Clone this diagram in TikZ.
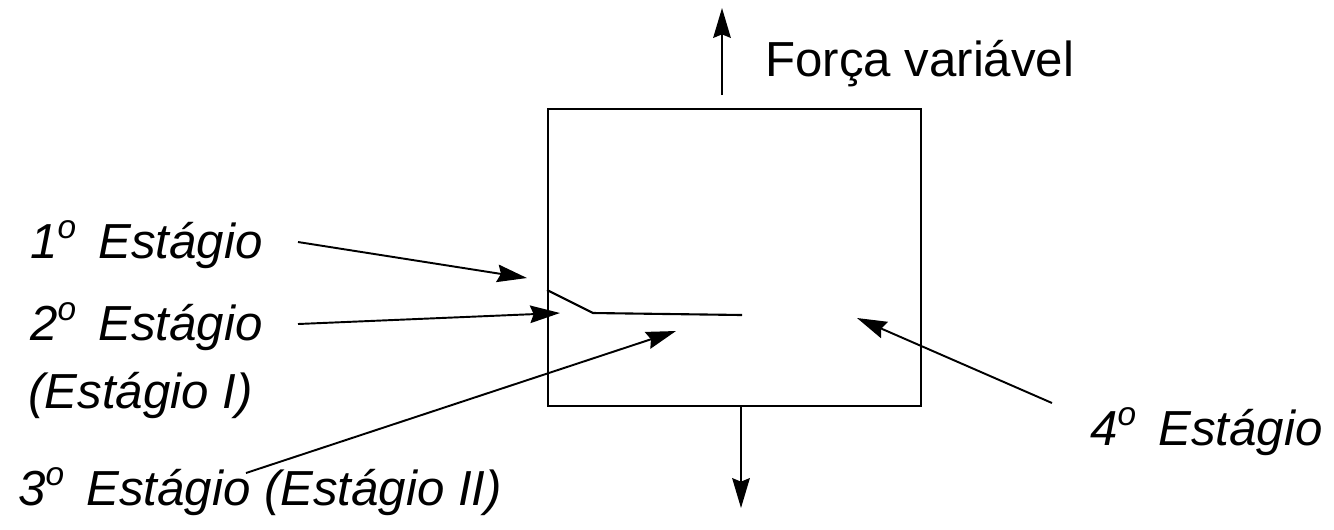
\documentclass[tikz,border=0pt]{standalone}
\usepackage{fontspec}
\setmainfont{Liberation Sans}
\usetikzlibrary{arrows.meta}
\newcommand{\ordo}{\raisebox{0.75ex}{\fontsize{19}{22}\selectfont o}\hspace{0.45em}}
\tikzset{
  lbl/.style={anchor=base west, inner sep=0pt, font=\fontsize{28}{33}\selectfont\itshape},
  ptr/.style={line width=1.1pt, -{Stealth[length=17pt,width=10pt,inset=2pt]}},
  body/.style={line width=1.2pt},
}
\begin{document}
\begin{tikzpicture}[x=0.02cm,y=-0.02cm]
\useasboundingbox (0,0) rectangle (1334,529);
% specimen
\node[body, draw, minimum width=373*0.02cm, minimum height=297*0.02cm, inner sep=0pt, anchor=north west] (box) at (547,108) {};
% crack
\coordinate (c0) at (547,290);
\coordinate (c1) at (593,313);
\coordinate (c2) at (742,315);
\draw[body] (c0) -- (c1) -- (c2);
% force arrows
\coordinate (t0) at (722,95);
\coordinate (t1) at (722,8);
\draw[ptr] (t0) -- (t1);
\coordinate (b0) at (741,405);
\coordinate (b1) at (741,508);
\draw[ptr] (b0) -- (b1);
\node[anchor=base west, inner sep=0pt, font=\fontsize{28}{33}\selectfont] (force) at (765,76) {Força variável};
% labels
\node[lbl] (s1) at (30,258) {1\ordo Estágio};
\node[lbl] (s2) at (30,340) {2\ordo Estágio};
\node[lbl] (s2b) at (28,408) {(Estágio I)};
\node[lbl] (s3) at (18,505) {3\ordo Estágio (Estágio II)};
\node[lbl] (s4) at (1090,445) {4\ordo Estágio};
% pointers
\coordinate (p1s) at (298,242);
\coordinate (p1e) at (527,278);
\draw[ptr] (p1s) -- (p1e);
\coordinate (p2s) at (298,324);
\coordinate (p2e) at (560,313);
\draw[ptr] (p2s) -- (p2e);
\coordinate (p3s) at (246,473);
\coordinate (p3e) at (676,331);
\draw[ptr] (p3s) -- (p3e);
\coordinate (p4s) at (1052,403);
\coordinate (p4e) at (857,318);
\draw[ptr] (p4s) -- (p4e);
\end{tikzpicture}
\end{document}
